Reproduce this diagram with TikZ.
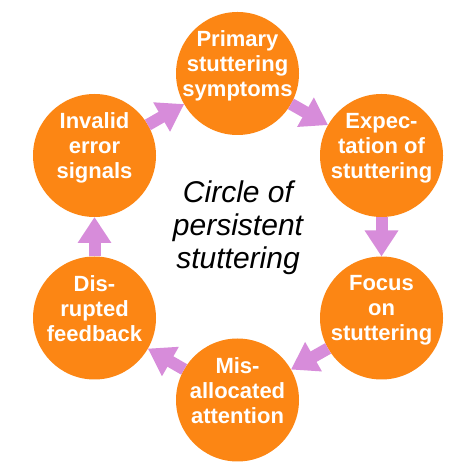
\documentclass[tikz,border=0pt]{standalone}
\usepackage{fontspec}
\setmainfont{Liberation Sans}
\usetikzlibrary{arrows.meta}
\definecolor{stageorange}{RGB}{252,134,20}
\definecolor{flowviolet}{RGB}{215,140,218}

\begin{document}
\begin{tikzpicture}[
    x=1pt, y=1pt,
    line join=round,
    stage/.style={circle, fill=stageorange, minimum size=123pt,
        inner sep=0pt, outer sep=0pt},
    stagetext/.style={text=white, align=center,
        font=\fontsize{22}{25}\selectfont\bfseries,
        execute at begin node=\strut, execute at end node=\strut},
    flow/.style={flowviolet, line width=12pt,
        -{Triangle[length=26pt, width=32pt]}}
]

% Sfondo
\useasboundingbox[fill=white] (0,0) rectangle (476,476);

% Cerchi
\node[stage] (sym) at (237.5,402.5) {};
\node[stage] (exp) at (381.5,320.5) {};
\node[stage] (foc) at (381.5,158) {};
\node[stage] (mis) at (237.5,76) {};
\node[stage] (dis) at (94.5,158) {};
\node[stage] (inv) at (94.5,320.5) {};

% Testi nei cerchi
\node[stagetext] (sym-t) at ([yshift=6pt]sym) {Primary\\stuttering\\symptoms};
\node[stagetext] (exp-t) at ([yshift=6pt]exp) {Expec-\\tation of\\stuttering};
\node[stagetext] (foc-t) at ([yshift=6pt]foc) {Focus\\on\\stuttering};
\node[stagetext] (mis-t) at ([yshift=6pt]mis) {Mis-\\allocated\\attention};
\node[stagetext] (dis-t) at ([yshift=6pt]dis) {Dis-\\rupted\\feedback};
\node[stagetext] (inv-t) at ([yshift=6pt]inv) {Invalid\\error\\signals};

% Titolo al centro
\node[align=center, font=\fontsize{30}{33}\selectfont\itshape,
    execute at begin node=\strut, execute at end node=\strut]
    (title) at (238,246.6) {Circle of\\persistent\\stuttering};

% Frecce
\draw[flow] (sym) -- (exp);
\draw[flow] (exp) -- (foc);
\draw[flow] (foc) -- (mis);
\draw[flow] (mis) -- (dis);
\draw[flow] (dis) -- (inv);
\draw[flow] (inv) -- (sym);

\end{tikzpicture}
\end{document}
